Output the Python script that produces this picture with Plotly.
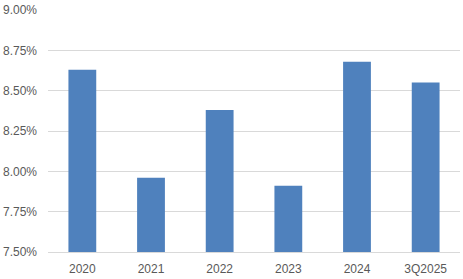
import plotly.graph_objects as go

categories = ["2020", "2021", "2022", "2023", "2024", "3Q2025"]
values = [8.63, 7.96, 8.38, 7.91, 8.68, 8.55]
tick_vals = [7.50, 7.75, 8.00, 8.25, 8.50, 8.75, 9.00]
tick_text = ["7.50%", "7.75%", "8.00%", "8.25%", "8.50%", "8.75%", "9.00%"]

fig = go.Figure(go.Bar(
    x=categories, y=values, marker_color="#4f81bd", marker_line_width=0,
))
fig.update_layout(
    width=463, height=279,
    margin=dict(l=45, r=3, t=10, b=26),
    paper_bgcolor="white", plot_bgcolor="white",
    bargap=0.595, showlegend=False,
    font=dict(family="Liberation Sans, Arial, sans-serif", size=12, color="#595959"),
)
fig.update_yaxes(
    range=[7.5, 9.0], tickvals=tick_vals, ticktext=tick_text,
    showgrid=True, gridcolor="#d9d9d9", gridwidth=1, zeroline=False,
    showline=False, ticks="", ticklabelstandoff=10,
)
fig.update_xaxes(
    showline=True, linecolor="#d9d9d9", linewidth=1, ticks="", showgrid=False,
    ticklabelstandoff=6,
)
fig.write_html("out.html")
